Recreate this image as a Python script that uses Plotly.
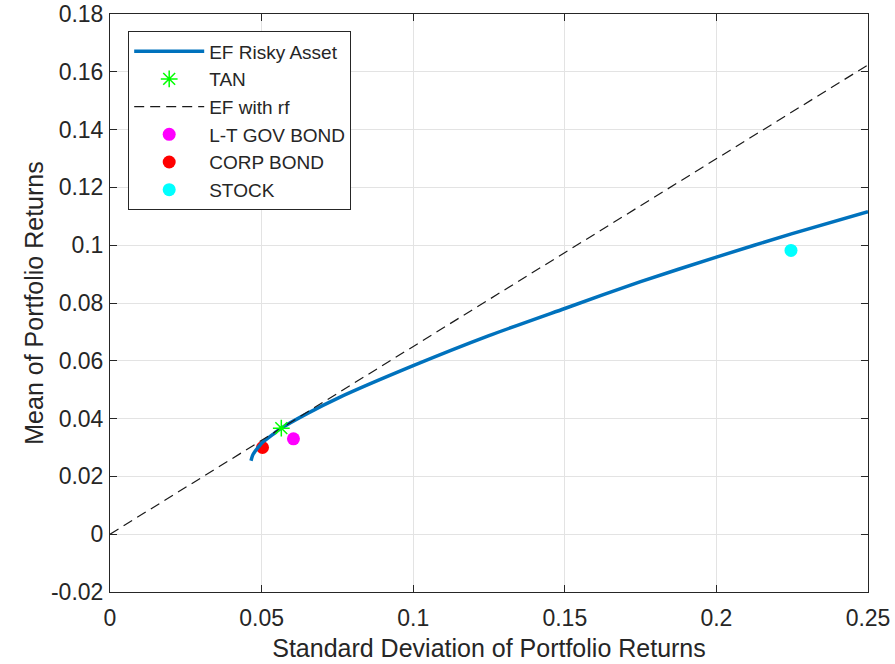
import plotly.graph_objects as go

# Efficient frontier of the risky assets (std dev, mean)
ef_sigma = [0.0465, 0.0470, 0.0478, 0.0490, 0.0500, 0.0543, 0.0565, 0.0653,
            0.0752, 0.1000, 0.1250, 0.1500, 0.1750, 0.2000, 0.2250, 0.2500]
ef_mu = [0.0254, 0.0272, 0.0286, 0.0302, 0.0315, 0.0350, 0.0367, 0.0419,
         0.0471, 0.0583, 0.0687, 0.0781, 0.0874, 0.0959, 0.1040, 0.1116]

# Tangency portfolio
tan_sigma = 0.0565
tan_mu = 0.0367

# Capital market line (risk-free rate of zero)
cml_sigma = [0.0, 0.25]
cml_mu = [s * tan_mu / tan_sigma for s in cml_sigma]

# Individual assets
assets = ["L-T GOV BOND", "CORP BOND", "STOCK"]
asset_sigma = [0.0605, 0.0503, 0.2246]
asset_mu = [0.0330, 0.0300, 0.0982]
asset_colors = ["#FF00FF", "#FF0000", "#00FFFF"]

x_ticks = [0, 0.05, 0.1, 0.15, 0.2, 0.25]
x_tick_text = ["0", "0.05", "0.1", "0.15", "0.2", "0.25"]
y_ticks = [-0.02, 0, 0.02, 0.04, 0.06, 0.08, 0.1, 0.12, 0.14, 0.16, 0.18]
y_tick_text = ["-0.02", "0", "0.02", "0.04", "0.06", "0.08", "0.1", "0.12",
               "0.14", "0.16", "0.18"]

FONT = "Liberation Sans, Arial, sans-serif"
INK = "#262626"

fig = go.Figure()

# Asset markers first so the lines sit on top of them
for name, sx, my, col, rank in zip(assets, asset_sigma, asset_mu, asset_colors, [4, 5, 6]):
    fig.add_trace(go.Scatter(
        x=[sx], y=[my], mode="markers", name=name, legendrank=rank,
        marker=dict(symbol="circle", size=13, color=col),
    ))

fig.add_trace(go.Scatter(
    x=ef_sigma, y=ef_mu, mode="lines", name="EF Risky Asset", legendrank=1,
    line=dict(color="#0072BD", width=3.5, shape="spline", smoothing=0.6),
))
fig.add_trace(go.Scatter(
    x=cml_sigma, y=cml_mu, mode="lines", name="EF with rf", legendrank=3,
    line=dict(color="#1a1a1a", width=1.2, dash="10px,6px"),
))
fig.add_trace(go.Scatter(
    x=[tan_sigma], y=[tan_mu], mode="markers", name="TAN", legendrank=2,
    marker=dict(symbol="asterisk-open", size=14, color="#00FF00",
                line=dict(color="#00FF00", width=1.5)),
))

axis_common = dict(
    showline=True, linecolor=INK, linewidth=1, mirror="ticks",
    ticks="inside", ticklen=7, tickcolor=INK, tickwidth=1,
    showgrid=True, gridcolor="#e3e3e3", gridwidth=1, zeroline=False,
    automargin=False,
    tickfont=dict(family=FONT, size=23, color=INK),
    title_font=dict(family=FONT, size=25, color=INK),
)

fig.update_xaxes(
    range=[0, 0.25], tickvals=x_ticks, ticktext=x_tick_text,
    ticklabelstandoff=5,
    title_text="Standard Deviation of Portfolio Returns", title_standoff=9,
    **axis_common,
)
fig.update_yaxes(
    range=[-0.02, 0.18], tickvals=y_ticks, ticktext=y_tick_text,
    ticklabelstandoff=1,
    title_text="Mean of Portfolio Returns", title_standoff=0,
    **axis_common,
)

fig.update_layout(
    width=895, height=664,
    margin=dict(l=110, r=27, t=14, b=72),
    paper_bgcolor="white", plot_bgcolor="white",
    legend=dict(
        x=0.024, y=0.97, xanchor="left", yanchor="top",
        bgcolor="white", bordercolor=INK, borderwidth=1,
        font=dict(family=FONT, size=19, color=INK),
        itemwidth=70, tracegroupgap=0, traceorder="normal",
    ),
    showlegend=True,
)

fig.write_html("out.html")
